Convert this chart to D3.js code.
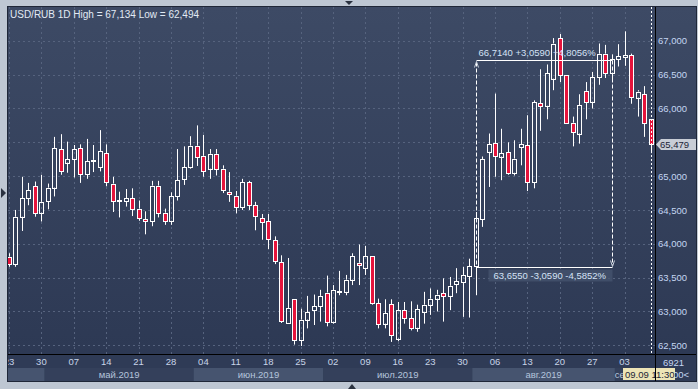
<!DOCTYPE html>
<html>
<head>
<meta charset="utf-8">
<script src="https://cdn.jsdelivr.net/npm/d3@7"></script>
<style>
  body { margin: 0; background: #bec7d3; }
  svg { display: block; font-family: "Liberation Sans", Arial, sans-serif; }
</style>
</head>
<body>
<div id="chart"></div>
<script>
const dates = [
  "2019-04-23","2019-04-24","2019-04-25","2019-04-26","2019-04-29","2019-04-30",
  "2019-05-01","2019-05-02","2019-05-03","2019-05-06","2019-05-07","2019-05-08","2019-05-09","2019-05-10",
  "2019-05-13","2019-05-14","2019-05-15","2019-05-16","2019-05-17","2019-05-20","2019-05-21","2019-05-22",
  "2019-05-23","2019-05-24","2019-05-27","2019-05-28","2019-05-29","2019-05-30","2019-05-31",
  "2019-06-03","2019-06-04","2019-06-05","2019-06-06","2019-06-07","2019-06-10","2019-06-11","2019-06-12",
  "2019-06-13","2019-06-14","2019-06-17","2019-06-18","2019-06-19","2019-06-20","2019-06-21","2019-06-24",
  "2019-06-25","2019-06-26","2019-06-27","2019-06-28",
  "2019-07-01","2019-07-02","2019-07-03","2019-07-04","2019-07-05","2019-07-08","2019-07-09","2019-07-10",
  "2019-07-11","2019-07-12","2019-07-15","2019-07-16","2019-07-17","2019-07-18","2019-07-19","2019-07-22",
  "2019-07-23","2019-07-24","2019-07-25","2019-07-26","2019-07-29","2019-07-30","2019-07-31",
  "2019-08-01","2019-08-02","2019-08-05","2019-08-06","2019-08-07","2019-08-08","2019-08-09","2019-08-12",
  "2019-08-13","2019-08-14","2019-08-15","2019-08-16","2019-08-19","2019-08-20","2019-08-21","2019-08-22",
  "2019-08-23","2019-08-26","2019-08-27","2019-08-28","2019-08-29","2019-08-30",
  "2019-09-02","2019-09-03","2019-09-04","2019-09-05","2019-09-06","2019-09-09"
];

const opens = [
  63.81,63.70,64.40,64.67,64.85,64.46,64.63,64.83,65.40,65.20,65.25,65.41,65.03,65.22,65.13,65.34,64.89,64.63,64.63,64.67,
  64.52,64.36,64.33,64.86,64.46,64.34,64.70,64.96,65.13,65.45,65.30,65.11,65.33,65.11,64.77,64.71,64.54,64.91,64.57,64.38,
  64.33,64.05,63.73,62.83,63.19,62.58,62.88,63.02,63.08,63.28,62.85,63.29,63.29,63.47,63.72,63.64,63.82,63.12,62.82,63.11,
  62.60,63.02,62.90,62.76,62.99,63.10,63.19,63.27,63.23,63.40,63.43,63.52,63.67,64.36,65.36,65.49,65.29,65.35,65.05,65.43,
  65.46,64.91,66.08,66.04,66.44,67.04,66.50,65.79,65.63,66.26,66.10,66.46,66.81,66.52,66.73,66.76,66.79,66.16,66.21,65.84
];
const highs = [
  63.86,64.50,64.99,64.90,64.92,65.02,64.89,65.58,65.62,65.51,65.46,65.47,65.55,65.46,65.68,65.47,64.99,64.77,64.81,64.82,
  64.64,64.48,64.93,64.93,64.52,64.76,65.40,65.44,65.59,65.75,65.61,65.40,65.40,65.16,65.06,64.78,64.96,64.93,64.62,64.44,
  64.44,64.11,63.83,63.79,63.19,63.04,63.23,63.25,63.32,63.53,63.39,63.60,63.54,63.86,63.99,63.97,63.82,63.19,63.18,63.18,
  63.14,63.14,63.15,63.10,63.29,63.34,63.32,63.49,63.51,63.64,63.66,63.78,64.47,65.29,65.63,66.22,65.70,65.50,65.53,65.70,
  65.90,66.12,66.58,66.65,67.04,67.10,66.50,65.88,66.21,66.39,66.54,66.96,66.94,66.80,66.95,67.14,66.81,66.27,66.33,65.84
];
const lows = [
  63.66,63.66,64.19,64.57,64.40,64.33,64.51,64.70,65.02,65.05,64.98,64.90,64.96,65.06,65.07,64.85,64.47,64.39,64.55,64.41,
  64.34,64.14,64.26,64.39,64.28,64.28,64.64,64.87,65.11,65.15,64.99,64.96,65.01,64.75,64.62,64.45,64.50,64.50,64.20,64.06,
  63.92,63.70,62.83,62.82,62.51,62.49,62.75,62.80,62.85,62.78,62.82,63.24,63.24,63.39,63.39,63.54,63.10,62.75,62.75,62.55,
  62.56,62.82,62.72,62.70,62.82,62.95,63.00,62.85,63.02,63.27,62.92,62.91,63.24,64.25,64.84,64.99,64.94,65.02,65.01,65.16,
  64.78,64.82,65.67,65.84,66.27,66.39,65.78,65.44,65.48,65.84,66.00,66.35,66.45,66.43,66.62,66.63,66.07,65.88,65.58,65.34
];
const closes = [
  63.70,64.40,64.67,64.79,64.46,64.62,64.83,65.41,65.08,65.25,65.40,65.03,65.22,65.24,65.37,64.91,64.63,64.64,64.67,64.52,
  64.38,64.33,64.86,64.46,64.34,64.70,64.94,65.13,65.45,65.28,65.08,65.33,65.10,64.79,64.73,64.54,64.91,64.57,64.41,64.32,
  64.07,63.75,62.86,63.05,62.58,62.88,62.99,63.08,63.23,62.85,63.31,63.30,63.47,63.82,63.68,63.82,63.12,62.82,62.97,62.65,
  63.02,62.90,62.76,63.03,63.10,63.19,63.25,63.23,63.38,63.45,63.54,63.67,64.38,65.25,65.47,65.30,65.34,65.05,65.26,65.47,
  64.91,66.09,66.04,66.52,66.96,66.50,65.79,65.65,66.05,66.09,66.46,66.81,66.52,66.73,66.77,66.79,66.17,66.25,65.78,65.479
];

const priceTicks = [62.5, 63.0, 63.5, 64.0, 64.5, 65.0, 65.5, 66.0, 66.5, 67.0];
const dateTicks = [
  "2019-04-23","2019-04-30","2019-05-07","2019-05-14","2019-05-21","2019-05-28","2019-06-04","2019-06-11",
  "2019-06-18","2019-06-25","2019-07-02","2019-07-09","2019-07-16","2019-07-23","2019-07-30","2019-08-06",
  "2019-08-13","2019-08-20","2019-08-27","2019-09-03"
];
const months = [
  { label: "", first: "2019-04-23", last: "2019-04-30" },
  { label: "май.2019", first: "2019-05-01", last: "2019-05-31" },
  { label: "июн.2019", first: "2019-06-03", last: "2019-06-28" },
  { label: "июл.2019", first: "2019-07-01", last: "2019-07-31" },
  { label: "авг.2019", first: "2019-08-01", last: "2019-08-30" },
  { label: "сен.2019", first: "2019-09-02", last: "2019-09-09" }
];
const titleText = "USD/RUB 1D High = 67,134 Low = 62,494";
const measureDates = ["2019-08-01", "2019-08-30"];
const measureLevels = [63.655, 66.714];
const measureLabels = ["63,6550 -3,0590 -4,5852%", "66,7140 +3,0590 +4,8056%"];

const width = 698, height = 389;
const plot = { left: 8, right: 655, top: 7, bottom: 354 };
const axisBottom = 381, panelRight = 696;
const tipBox = { x: 623, y: 368, w: 52, h: 12 };

const ru = d3.formatLocale({ decimal: ",", thousands: " ", grouping: [3], currency: ["", ""] });
const fmt = ru.format(".3f");

const svg = d3.select("#chart").append("svg")
  .attr("width", width)
  .attr("height", height);

const defs = svg.append("defs");
const bg = defs.append("linearGradient").attr("id", "bg").attr("x1", 0).attr("y1", 0).attr("x2", 0).attr("y2", 1);
bg.append("stop").attr("offset", "0%").attr("stop-color", "#3d4a65");
bg.append("stop").attr("offset", "100%").attr("stop-color", "#2d3954");
defs.append("clipPath").attr("id", "plotClip").append("rect")
  .attr("x", plot.left).attr("y", plot.top)
  .attr("width", plot.right - plot.left).attr("height", plot.bottom - plot.top);
defs.append("clipPath").attr("id", "timeClip").append("rect")
  .attr("x", plot.left).attr("y", plot.bottom)
  .attr("width", plot.right - plot.left).attr("height", axisBottom - plot.bottom);
defs.append("clipPath").attr("id", "sepClip").append("rect")
  .attr("x", plot.left).attr("y", plot.bottom)
  .attr("width", tipBox.x - plot.left).attr("height", axisBottom - plot.bottom);
defs.append("clipPath").attr("id", "cornerClip").append("rect")
  .attr("x", tipBox.x + tipBox.w).attr("y", plot.bottom)
  .attr("width", panelRight - tipBox.x - tipBox.w).attr("height", axisBottom - plot.bottom);

// frame + panel
svg.append("rect").attr("width", width).attr("height", height).attr("fill", "#bec7d3");
svg.append("rect")
  .attr("x", plot.left).attr("y", plot.top)
  .attr("width", panelRight - plot.left).attr("height", plot.bottom - plot.top)
  .attr("fill", "url(#bg)");
svg.append("rect")
  .attr("x", plot.left).attr("y", plot.bottom)
  .attr("width", panelRight - plot.left).attr("height", axisBottom - plot.bottom)
  .attr("fill", "#2f3b56");

const x = d3.scaleBand()
  .domain(dates)
  .range([5.76, 653.76])
  .padding(0);
const cx = d => Math.round(x(d) + x.bandwidth() / 2);

const y = d3.scaleLinear()
  .domain([62.5, 67.0])
  .range([345.3, 40.8]);

// month bands on the time axis
const monthG = svg.append("g").attr("clip-path", "url(#timeClip)");
months.forEach((m, i) => {
  const x0 = x(m.first), x1 = x(m.last) + x.bandwidth();
  monthG.append("rect")
    .attr("x", x0).attr("y", 368)
    .attr("width", x1 - x0).attr("height", 13)
    .attr("fill", i % 2 === 0 ? "#46546f" : "#34405b");
  if (m.label) {
    monthG.append("text")
      .attr("x", (x0 + x1) / 2)
      .attr("y", 377.5)
      .attr("text-anchor", "middle")
      .attr("font-size", "9.5px")
      .attr("fill", "#b4c4dc")
      .attr("clip-path", i === months.length - 1 ? "url(#sepClip)" : null)
      .text(m.label);
  }
});

// grid
const grid = svg.append("g").attr("clip-path", "url(#plotClip)");
grid.selectAll(".hg").data(priceTicks).enter().append("line")
  .attr("x1", plot.left).attr("x2", plot.right)
  .attr("y1", d => Math.round(y(d)) + 0.5).attr("y2", d => Math.round(y(d)) + 0.5)
  .attr("stroke", "#56637e").attr("stroke-dasharray", "2,3");
grid.selectAll(".vg").data(dateTicks).enter().append("line")
  .attr("x1", d => cx(d) + 0.5).attr("x2", d => cx(d) + 0.5)
  .attr("y1", plot.top).attr("y2", plot.bottom)
  .attr("stroke", "#56637e").attr("stroke-dasharray", "2,3");

// candles
const candles = dates.map((d, i) => ({ date: d, o: opens[i], h: highs[i], l: lows[i], c: closes[i] }));
const cg = svg.append("g").attr("clip-path", "url(#plotClip)");
const candle = cg.selectAll(".candle").data(candles).enter().append("g").attr("class", "candle");

candle.append("line")
  .attr("x1", d => cx(d.date) + 0.5).attr("x2", d => cx(d.date) + 0.5)
  .attr("y1", d => y(d.h)).attr("y2", d => y(Math.max(d.o, d.c)))
  .attr("stroke", "#ffffff");
candle.append("line")
  .attr("x1", d => cx(d.date) + 0.5).attr("x2", d => cx(d.date) + 0.5)
  .attr("y1", d => y(Math.min(d.o, d.c))).attr("y2", d => y(d.l))
  .attr("stroke", "#ffffff");
candle.append("rect")
  .attr("x", d => cx(d.date) - 1.5)
  .attr("y", d => Math.round(y(Math.max(d.o, d.c))) + 0.5)
  .attr("width", 4)
  .attr("height", d => Math.max(1, Math.round(y(Math.min(d.o, d.c))) - Math.round(y(Math.max(d.o, d.c)))))
  .attr("fill", d => d.c < d.o ? "#e5143c" : "none")
  .attr("stroke", "#ffffff")
  .attr("stroke-width", 1);

// measurement annotation
const mx0 = cx(measureDates[0]) + 0.5, mx1 = cx(measureDates[1]) + 0.5;
const myLow = Math.round(y(measureLevels[0])) + 0.5, myHigh = Math.round(y(measureLevels[1])) + 0.5;
const ann = svg.append("g");
ann.append("line").attr("x1", mx0).attr("x2", mx1).attr("y1", myHigh).attr("y2", myHigh).attr("stroke", "#ffffff");
ann.append("line").attr("x1", mx0).attr("x2", mx1).attr("y1", myLow).attr("y2", myLow).attr("stroke", "#ffffff");
ann.append("line").attr("x1", mx0).attr("x2", mx0).attr("y1", myHigh + 2).attr("y2", myLow)
  .attr("stroke", "#ffffff").attr("stroke-dasharray", "4,2");
ann.append("line").attr("x1", mx1).attr("x2", mx1).attr("y1", myHigh).attr("y2", myLow - 2)
  .attr("stroke", "#ffffff").attr("stroke-dasharray", "4,2");
ann.append("path")
  .attr("d", `M${mx0 - 2},${myHigh + 7}L${mx0},${myHigh + 1}L${mx0 + 2},${myHigh + 7}`)
  .attr("fill", "none").attr("stroke", "#c8d0dc");
ann.append("path")
  .attr("d", `M${mx1 - 2},${myLow - 7}L${mx1},${myLow - 1}L${mx1 + 2},${myLow - 7}`)
  .attr("fill", "none").attr("stroke", "#c8d0dc");
ann.append("rect")
  .attr("x", mx0 + 12).attr("y", myLow + 2)
  .attr("width", mx1 - mx0 - 12).attr("height", 12)
  .attr("fill", "#46546f").attr("opacity", 0.75);
ann.append("text")
  .attr("x", mx0 + 17).attr("y", myLow + 11.5)
  .attr("font-size", "9.5px").attr("fill", "#d4e2f6")
  .text(measureLabels[0]);
ann.append("text")
  .attr("x", mx0 + 2).attr("y", myHigh - 5)
  .attr("font-size", "9.5px").attr("fill", "#d4e2f6")
  .text(measureLabels[1]);

// cursor on the last bar
const lastX = cx(dates[dates.length - 1]) + 0.5;
svg.append("line")
  .attr("x1", lastX).attr("x2", lastX)
  .attr("y1", plot.top).attr("y2", plot.bottom)
  .attr("stroke", "#ffffff").attr("stroke-dasharray", "2,2");

// axes lines + panel edge
svg.append("rect")
  .attr("x", plot.left - 0.5).attr("y", plot.top - 0.5)
  .attr("width", panelRight - plot.left + 1).attr("height", axisBottom - plot.top + 1)
  .attr("fill", "none").attr("stroke", "#1f2738");
svg.append("line").attr("x1", plot.right + 0.5).attr("x2", plot.right + 0.5)
  .attr("y1", plot.top).attr("y2", axisBottom).attr("stroke", "#000000");
svg.append("line").attr("x1", plot.left).attr("x2", panelRight)
  .attr("y1", plot.bottom + 0.5).attr("y2", plot.bottom + 0.5).attr("stroke", "#000000");

// price axis (65,500 sits under the current price marker)
const lastClose = closes[closes.length - 1];
const yAxis = svg.append("g")
  .attr("transform", `translate(${plot.right},0)`)
  .call(d3.axisRight(y)
    .tickValues(priceTicks.filter(v => Math.abs(y(v) - y(lastClose)) > 8))
    .tickSize(0).tickPadding(3).tickFormat(fmt));
yAxis.select(".domain").remove();
yAxis.selectAll("text")
  .attr("font-family", "Liberation Sans, Arial, sans-serif")
  .attr("font-size", "9.5px")
  .attr("fill", "#c4d6f2");

// time axis
const xAxis = svg.append("g")
  .attr("clip-path", "url(#timeClip)")
  .append("g")
  .attr("transform", `translate(0,${plot.bottom})`)
  .call(d3.axisBottom(x).tickValues(dateTicks).tickSize(0).tickPadding(4).tickFormat(d => d.slice(8)));
xAxis.select(".domain").remove();
xAxis.selectAll("text")
  .attr("font-family", "Liberation Sans, Arial, sans-serif")
  .attr("font-size", "9.5px")
  .attr("fill", "#c8d4e8");

// current price label
const lastY = Math.round(y(lastClose)) + 0.5;
svg.append("path")
  .attr("d", `M${plot.right + 1},${lastY}L${plot.right + 6},${lastY - 5.5}L${panelRight},${lastY - 5.5}L${panelRight},${lastY + 5.5}L${plot.right + 6},${lastY + 5.5}Z`)
  .attr("fill", "#c8cdd6");
svg.append("text")
  .attr("x", plot.right + 5).attr("y", lastY + 3.5)
  .attr("font-size", "9.5px").attr("fill", "#1c2436")
  .text(fmt(lastClose));

// title
svg.append("text")
  .attr("x", 10).attr("y", 18)
  .attr("font-size", "10px").attr("fill", "#e2eaf4")
  .text(titleText);

// bottom right corner bits
svg.append("text")
  .attr("x", 663).attr("y", 366)
  .attr("font-size", "9.5px").attr("fill", "#c4d6f2")
  .text("6921");
svg.append("text")
  .attr("x", 689).attr("y", 377.5).attr("text-anchor", "end")
  .attr("clip-path", "url(#cornerClip)")
  .attr("font-size", "9.5px").attr("fill", "#c4d6f2")
  .text("10000<");
svg.append("rect")
  .attr("x", tipBox.x).attr("y", tipBox.y).attr("width", tipBox.w).attr("height", tipBox.h)
  .attr("fill", "#ede4b6");
svg.append("text")
  .attr("x", tipBox.x + 2).attr("y", tipBox.y + 9.5)
  .attr("font-size", "9.5px").attr("fill", "#1c2436")
  .text("09.09 11:30");
svg.append("line").attr("x1", plot.right + 0.5).attr("x2", plot.right + 0.5)
  .attr("y1", plot.bottom).attr("y2", axisBottom).attr("stroke", "#000000");

// scroll arrows in the frame
svg.append("path").attr("d", "M345,1L353,1L349,5Z").attr("fill", "#2a3240");
svg.append("path").attr("d", "M348,389L356,389L352,384Z").attr("fill", "#2a3240");
svg.append("path").attr("d", "M1,188L6,193L1,198Z").attr("fill", "#2a3240");
</script>
</body>
</html>
